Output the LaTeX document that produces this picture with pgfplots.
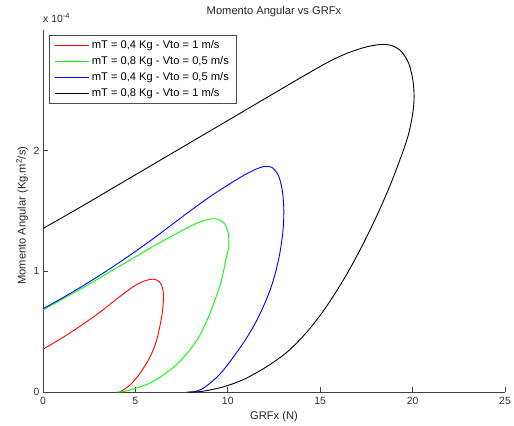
\documentclass[border=0pt]{standalone}
\usepackage{fontspec}
\setmainfont{Liberation Sans}
\usepackage{pgfplots}
\pgfplotsset{compat=1.18}
\begin{document}
\begin{tikzpicture}
\useasboundingbox (-43bp,-34bp) rectangle (471bp,392bp);
\begin{axis}[
  at={(0,0)}, anchor=south west,
  scale only axis, width=462bp, height=362bp,
  xmin=0, xmax=25, ymin=0, ymax=3,
  xtick={0,5,10,15,20,25}, ytick={0,1,2},
  scaled y ticks=false,
  clip=false,
  axis x line=bottom, axis y line=left,
  axis line style={-, black!75, line width=0.7bp},
  every tick/.style={black!75, line width=0.7bp},
  tick align=inside, major tick length=5bp,
  /pgf/number format/assume math mode=true,
  tick label style={font=\fontsize{10.5}{12}\selectfont, text=black!80},
  xticklabel style={yshift=-2bp},
  title={Momento Angular vs GRFx},
  title style={at={(axis description cs:0.5,1.026)}, anchor=base, font=\fontsize{11.2}{13}\selectfont, text=black!85},
  xlabel={GRFx (N)},
  xlabel style={at={(axis description cs:0.5,-0.0773)}, anchor=base, font=\fontsize{11.2}{13}\selectfont, text=black!85},
  ylabel={Momento Angular (Kg.m\textsuperscript{2}/s)},
  ylabel style={at={(axis description cs:-0.0377,0.487)}, anchor=base, font=\fontsize{11.2}{13}\selectfont, text=black!85},
  legend cell align=left,
  legend style={at={(axis description cs:0.013,0.986)}, anchor=north west,
    font=\fontsize{11.2}{13}\selectfont, draw=black!70,
    inner xsep=5.5bp, inner ysep=3bp, row sep=2.5bp},
  legend image code/.code={\draw[#1, line width=1.1bp] (0bp,0bp) -- (34bp,0bp);},
]
\addplot[draw=red, line width=0.9bp, smooth, tension=0.5] coordinates {
(0,0.355) (1,0.445) (2,0.545) (3,0.652) (4,0.772) (4.6,0.842) (5.1,0.893) (5.6,0.926)
(6.0,0.935) (6.3,0.913) (6.47,0.86) (6.52,0.77) (6.42,0.622) (6.15,0.43)
(5.79,0.29) (5.25,0.155) (4.71,0.058) (4.17,0)
};
\addlegendentry{mT = 0,4 Kg - Vto = 1 m/s}
\addplot[draw=green, line width=0.9bp, smooth, tension=0.5] coordinates {
(0,0.68) (1,0.765) (2,0.85) (3,0.94) (4,1.03) (5,1.12) (6,1.21) (7,1.295) (7.8,1.36)
(8.5,1.41) (9.1,1.435) (9.5,1.43) (9.85,1.39) (10.03,1.31) (10.05,1.2) (9.9,1.1)
(9.65,0.92) (9.3,0.76) (8.95,0.62) (8.45,0.46) (7.9,0.34) (7.25,0.23) (6.5,0.14)
(5.8,0.075) (5.0,0.03) (4.4,0.005) (4.0,0)
};
\addlegendentry{mT = 0,8 Kg - Vto = 0,5 m/s}
\addplot[draw=blue, line width=0.9bp, smooth, tension=0.5] coordinates {
(0,0.69) (1,0.775) (2,0.865) (3,0.96) (4,1.06) (5,1.165) (6,1.275) (7,1.39) (8,1.505)
(9,1.615) (10,1.715) (10.8,1.79) (11.5,1.845) (12.0,1.87) (12.4,1.86) (12.75,1.79)
(12.95,1.67) (13.03,1.52) (13.0,1.36) (12.85,1.18) (12.6,1.0) (12.3,0.85) (11.9,0.7)
(11.45,0.56) (10.9,0.42) (10.3,0.29) (9.7,0.17) (9.1,0.08) (8.6,0.025) (8.2,0.003) (7.9,0)
};
\addlegendentry{mT = 0,4 Kg - Vto = 0,5 m/s}
\addplot[draw=black, line width=0.9bp, smooth, tension=0.5] coordinates {
(0,1.355) (2,1.53) (4,1.71) (6,1.89) (8,2.07) (10,2.25) (12,2.43) (14,2.61) (15.5,2.74)
(16.5,2.81) (17.5,2.86) (18.3,2.88) (18.9,2.87) (19.4,2.82) (19.8,2.72) (20.02,2.58)
(20.08,2.44) (20.0,2.3) (19.75,2.12) (19.35,1.94) (18.75,1.7) (18.0,1.44) (17.2,1.19)
(16.3,0.94) (15.3,0.7) (14.3,0.5) (13.2,0.33) (12.0,0.2) (10.8,0.1) (9.7,0.04)
(8.8,0.01) (8.2,0) (7.8,0)
};
\addlegendentry{mT = 0,8 Kg - Vto = 1 m/s}
\node[anchor=base west, inner sep=0pt, font=\fontsize{10.5}{12}\selectfont, text=black!85]
  at (rel axis cs:0,1.022) {x 10\textsuperscript{-4}};
\end{axis}
\end{tikzpicture}
\end{document}
